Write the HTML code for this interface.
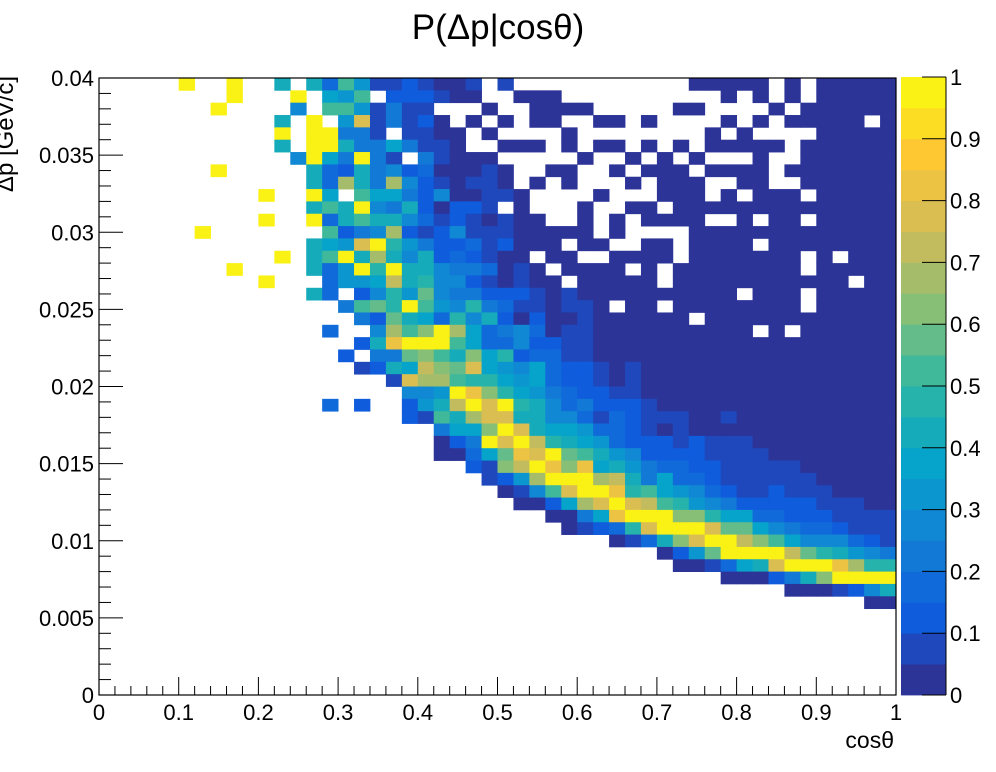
<!DOCTYPE html>
<html><head><meta charset="utf-8">
<style>
html,body{margin:0;padding:0;background:#fff;}
svg{display:block;font-family:"Liberation Sans",sans-serif;}
</style></head>
<body>
<svg id="chart" width="996" height="772" viewBox="0 0 996 772" xmlns="http://www.w3.org/2000/svg">
<text x="498" y="39" font-size="35" text-anchor="middle">P(Δp|cosθ)</text>
<text x="894" y="748" font-size="23" text-anchor="end">cosθ</text>
<text transform="translate(13,76) rotate(-90)" font-size="24" text-anchor="end">Δp [GeV/c]</text>
<g id="cells"></g>
<g id="palette"></g>
<g id="axes"></g>
</svg>
<script>
// Data: 50 x-bins (cosθ 0..1), 50 y-bins (Δp 0..0.04). Rows listed top (high Δp) to bottom.
// Each char = colour level 0..19 ('0'-'9','a'-'j'), '.' = empty bin.
const xBins = 50;
const yBins = 50;
const xRange = [0, 1];
const yRange = [0, 0.04];
const xTickLabels = ["0","0.1","0.2","0.3","0.4","0.5","0.6","0.7","0.8","0.9","1"];
const yTickLabels = ["0","0.005","0.01","0.015","0.02","0.025","0.03","0.035","0.04"];
const zTickLabels = ["0","0.1","0.2","0.3","0.4","0.5","0.6","0.7","0.8","0.9","1"];
const rows = [
".....j..j..8.83a61121001.1...........00000.0.00000",
"........j...j.76a.222100..000..........0.0.0.00000",
".......j....5.aa61411...0..0000.....00....0.000000",
"...........8.j.6f14120.0.0.00..00.0....0.0.00000.0",
"...........j.jj441.1100.0....0........0.0....00000",
"...........8.jj84474110..000.0.00.0.0.00000.000000",
"............5j74j41.41000.....0..0.0.0...0..000000",
".......j.....8328452300010..00..0.000.0000.0000000",
".............83d84d5210110.0.0...0.000..00..000000",
"..........j..j7.a7742500110....0...000.0.000.00000",
".............8a8j54820221.0...0..00.00000000000000",
"..........j..j38a88531210100..0.0.0000..0.00.00000",
"......j.......a245d212511100000.0....0000000000000",
".............876fj96422312000.00..00.0000.00000000",
"...........j.8aj8d8582321 00.00..0000.0000000.0.000",
"........j....836j9j885443010.0000.0.00000000.00000",
"..........j...3667e8955210100.00000.00000000000.00",
".............83.2596b5442221010000000000.000.00000",
"...............4ab9ja65943110110.00.00000000.00000",
"................42b873958202001000000.000000000000",
"..............3..5dacjd734530110000000000.0.000000",
"................28gjjja733522110000000000000000000",
"...............2.44bca8c79233110000000000000000000",
"................1287ecbf76573221010000000000000000",
"..................1fdda997673221010000000000000000",
"...................556jgc9764322110000000000000000",
"..............3.2..268ejfj985342221000000000000000",
"...................21a8dff88553132111001 0000000000",
".....................477cjf87763321010000000000000",
".....................024jfje9876322212111000000000",
".....................0037bgfjba86522221111 00000000",
".......................21cejgcg7864332211111000000",
"........................126djjjde847332111111 00000",
".........................015afjjg9a765321121110000",
"..........................0027dfjfea96542222211100",
"............................0047gjjjcc977332221111",
".............................01239fjjjfbb754332111",
"................................0138cfjjeca7555321",
"...................................026bjjjjeb98654",
"....................................00137 8fjjjgd99",
".......................................000248cjjjj",
"...........................................0001258",
"................................................00",
"..................................................",
"..................................................",
"..................................................",
"..................................................",
"..................................................",
"..................................................",
".................................................."
].map(r => r.replace(/ /g, ''));
const levelChars = "0123456789abcdefghij";
const values = rows.map(r => {
  const out = [];
  for (let i = 0; i < xBins; i++) {
    const ch = r[i] || '.';
    const k = levelChars.indexOf(ch);
    out.push(k < 0 ? null : (k + 0.5) / 20);
  }
  return out;
});

const X0 = 99, X1 = 896, Y0 = 695, Y1 = 78;
const xScale = v => X0 + (v - xRange[0]) / (xRange[1] - xRange[0]) * (X1 - X0);
const yScale = v => Y0 - (v - yRange[0]) / (yRange[1] - yRange[0]) * (Y0 - Y1);
const PY0 = 695, PY1 = 77;
const zScale = v => PY0 - v * (PY0 - PY1);

const stops = [0,0.125,0.25,0.375,0.5,0.625,0.75,0.875,1];
const R = [0.2082,0.0592,0.0780,0.0232,0.1802,0.5301,0.8186,0.9956,0.9764];
const G = [0.1664,0.3599,0.5041,0.6419,0.7178,0.7492,0.7328,0.7862,0.9832];
const B = [0.5293,0.8684,0.8385,0.7914,0.6425,0.4662,0.3499,0.1968,0.0539];
function bird(t) {
  t = Math.max(0, Math.min(1, t));
  let i = Math.min(7, Math.floor(t / 0.125));
  const f = (t - stops[i]) / 0.125;
  const c = a => Math.round(255 * (a[i] + (a[i + 1] - a[i]) * f));
  return `rgb(${c(R)},${c(G)},${c(B)})`;
}
function levelColor(v) {
  const lvl = Math.min(19, Math.floor(v * 20));
  return bird((lvl + 0.5) / 20);
}
const NS = "http://www.w3.org/2000/svg";
function mk(tag, attrs, parent) {
  const e = document.createElementNS(NS, tag);
  for (const k in attrs) e.setAttribute(k, attrs[k]);
  parent.appendChild(e);
  return e;
}
const cells = document.getElementById('cells');
const dx = (xRange[1] - xRange[0]) / xBins, dy = (yRange[1] - yRange[0]) / yBins;
values.forEach((row, r) => {
  const yHi = yRange[1] - r * dy, yLo = yHi - dy;
  row.forEach((v, c) => {
    if (v === null) return;
    const xa = xScale(xRange[0] + c * dx), xb = xScale(xRange[0] + (c + 1) * dx);
    const ya = yScale(yHi), yb = yScale(yLo);
    const rect = mk('rect', {x: xa.toFixed(2), y: ya.toFixed(2), width: (xb - xa + 0.4).toFixed(2), height: (yb - ya + 0.4).toFixed(2), fill: levelColor(v)}, cells);
    
    
  });
});

const pal = document.getElementById('palette');
for (let i = 0; i < 20; i++) {
  const ya = zScale((i + 1) / 20), yb = zScale(i / 20);
  const rect = mk('rect', {x: 901, y: ya.toFixed(2), width: 45, height: (yb - ya + 0.4).toFixed(2), fill: bird((i + 0.5) / 20)}, pal);
  
  
}
mk('line', {x1: 946, y1: PY1, x2: 946, y2: PY0, stroke: '#000', 'stroke-width': 1}, pal);
zTickLabels.forEach((lab, i) => {
  const v = i / (zTickLabels.length - 1);
  const y = zScale(v);
  mk('line', {x1: 922, y1: y, x2: 946, y2: y, stroke: '#000', 'stroke-width': 1}, pal);
  const t = mk('text', {x: 950, y: y + 8, 'font-size': 22}, pal);
  t.textContent = lab;
  
  
});

const ax = document.getElementById('axes');
mk('rect', {x: X0, y: Y1, width: X1 - X0, height: Y0 - Y1, fill: 'none', stroke: '#000', 'stroke-width': 1.2}, ax);
const nx = xTickLabels.length - 1;
for (let i = 0; i <= nx * 5; i++) {
  const v = xRange[0] + i * (xRange[1] - xRange[0]) / (nx * 5);
  const x = xScale(v);
  const len = i % 5 === 0 ? 18 : 9;
  mk('line', {x1: x, y1: Y0, x2: x, y2: Y0 - len, stroke: '#000', 'stroke-width': 1}, ax);
}
xTickLabels.forEach((lab, i) => {
  const x = xScale(xRange[0] + i * (xRange[1] - xRange[0]) / nx);
  const t = mk('text', {x: x, y: 720, 'font-size': 22, 'text-anchor': 'middle'}, ax);
  t.textContent = lab;
  
  
});
const ny = yTickLabels.length - 1;
for (let i = 0; i <= ny * 5; i++) {
  const v = yRange[0] + i * (yRange[1] - yRange[0]) / (ny * 5);
  const y = yScale(v);
  const len = i % 5 === 0 ? 24 : 12;
  mk('line', {x1: X0, y1: y, x2: X0 + len, y2: y, stroke: '#000', 'stroke-width': 1}, ax);
}
yTickLabels.forEach((lab, i) => {
  const y = yScale(yRange[0] + i * (yRange[1] - yRange[0]) / ny);
  const t = mk('text', {x: 94, y: y + 8, 'font-size': 22, 'text-anchor': 'end'}, ax);
  t.textContent = lab;
  
  
});
</script>
</body></html>
